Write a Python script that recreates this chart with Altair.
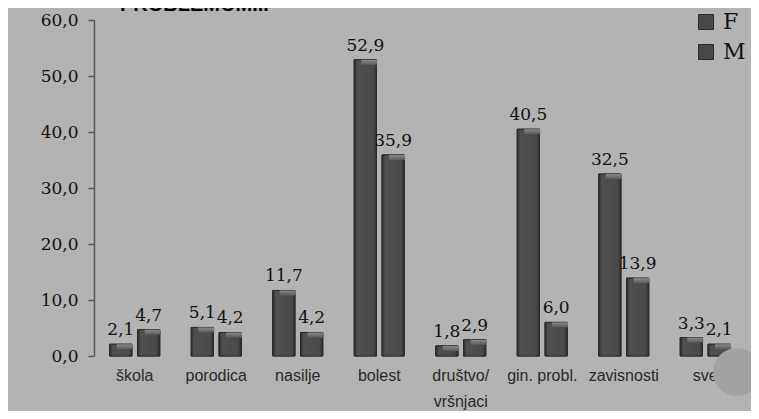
import altair as alt
import pandas as pd

categories = ["škola", "porodica", "nasilje", "bolest", "društvo/ vršnjaci",
              "gin. probl.", "zavisnosti", "sve"]
series = ["F", "M"]
values_f = [2.1, 5.1, 11.7, 52.9, 1.8, 40.5, 32.5, 3.3]
values_m = [4.7, 4.2, 4.2, 35.9, 2.9, 6.0, 13.9, 2.1]
y_ticks = [0, 10, 20, 30, 40, 50, 60]

rows = []
for c, f, m in zip(categories, values_f, values_m):
    rows.append({"cat": c, "sex": "F", "value": f})
    rows.append({"cat": c, "sex": "M", "value": m})
df = pd.DataFrame(rows)
df["label"] = df["value"].map(lambda v: f"{v:.1f}".replace(".", ","))

BG = "#b3b3b3"
BAR = "#484848"
SERIF = "DejaVu Serif"

x_enc = alt.X("cat:N", sort=categories,
              scale=alt.Scale(paddingInner=0.386, paddingOuter=0.193),
              axis=alt.Axis(title=None, domain=False, ticks=False, labelAngle=0,
                            labelFont="Liberation Sans", labelFontSize=16,
                            labelColor="#2a2a2a", labelPadding=11,
                            labelLineHeight=26,
                            labelExpr="datum.label == 'društvo/ vršnjaci' ? ['društvo/', 'vršnjaci'] : datum.label"))
xo_enc = alt.XOffset("sex:N", sort=series, scale=alt.Scale(paddingInner=0.2))
y_scale = alt.Scale(domain=[0, 60], nice=False)

base = alt.Chart(df)

bars = base.mark_bar(stroke="#2a2a2a", strokeWidth=1).encode(
    x=x_enc,
    xOffset=xo_enc,
    y=alt.Y("value:Q", scale=y_scale,
            axis=alt.Axis(title=None, values=y_ticks, grid=False,
                          domainColor="#5a5a5a", domainWidth=1.5,
                          tickColor="#5a5a5a", tickWidth=1.5, tickSize=6,
                          labelFont=SERIF, labelFontSize=17, labelColor="#111",
                          labelPadding=10,
                          labelExpr="replace(format(datum.value, '.1f'), '.', ',')")),
    color=alt.Color("sex:N", sort=series,
                    scale=alt.Scale(domain=series, range=[BAR, BAR]),
                    legend=alt.Legend(title=None, orient="none", legendX=601, legendY=-9,
                                      symbolType="square", symbolSize=225,
                                      symbolStrokeColor="#2a2a2a", symbolStrokeWidth=1,
                                      labelFont=SERIF, labelFontSize=22,
                                      labelColor="#111", labelOffset=6,
                                      rowPadding=8, padding=0)),
)

grad = alt.Gradient(gradient="linear", x1=0, x2=1, y1=0, y2=0,
                    stops=[alt.GradientStop(color="#2c2c2c", offset=0),
                           alt.GradientStop(color="#505050", offset=0.14),
                           alt.GradientStop(color="#4a4a4a", offset=0.86),
                           alt.GradientStop(color="#2c2c2c", offset=1)])
overlay = base.mark_bar(color=grad, stroke="#2a2a2a", strokeWidth=1).encode(
    x=alt.X("cat:N", sort=categories), xOffset=alt.XOffset("sex:N", sort=series),
    y=alt.Y("value:Q", scale=y_scale),
)

cap_grad = alt.Gradient(gradient="linear", x1=0, x2=0, y1=0, y2=1,
                        stops=[alt.GradientStop(color="#8a8a8a", offset=0),
                               alt.GradientStop(color="#5a5a5a", offset=1)])
caps = base.transform_calculate(
    top="datum.value", bottom="max(0, datum.value - 0.9)"
).mark_bar(color=cap_grad, width=alt.RelativeBandSize(0.72)).encode(
    x=alt.X("cat:N", sort=categories), xOffset=alt.XOffset("sex:N", sort=series),
    y=alt.Y("top:Q", scale=y_scale), y2="bottom:Q",
)

labels = base.mark_text(font=SERIF, fontSize=17, color="#111",
                        baseline="alphabetic", dy=-9).encode(
    x=alt.X("cat:N", sort=categories), xOffset=alt.XOffset("sex:N", sort=series),
    y=alt.Y("value:Q", scale=y_scale),
    text="label:N",
)

title = alt.Chart(pd.DataFrame({"t": ["PROBLEMOM..."]})).mark_text(
    font="Liberation Sans", fontWeight="bold", fontSize=20, color="#000",
    align="left", baseline="alphabetic"
).encode(x=alt.value(26), y=alt.value(-9), text="t:N")

circle = alt.Chart(pd.DataFrame({"c": [1]})).mark_circle(
    color="#a2a2a2", opacity=1, size=2300
).encode(x=alt.value(643), y=alt.value(352))

chart = alt.layer(bars, overlay, caps, labels, title, circle).properties(
    width=652, height=336,
    background=BG,
    autosize=alt.AutoSizeParams(type="none"),
    padding={"left": 86, "top": 12, "right": 5, "bottom": 55},
).configure_view(stroke=None)

chart.save("out.html", embed_options={"renderer": "svg", "actions": False})
